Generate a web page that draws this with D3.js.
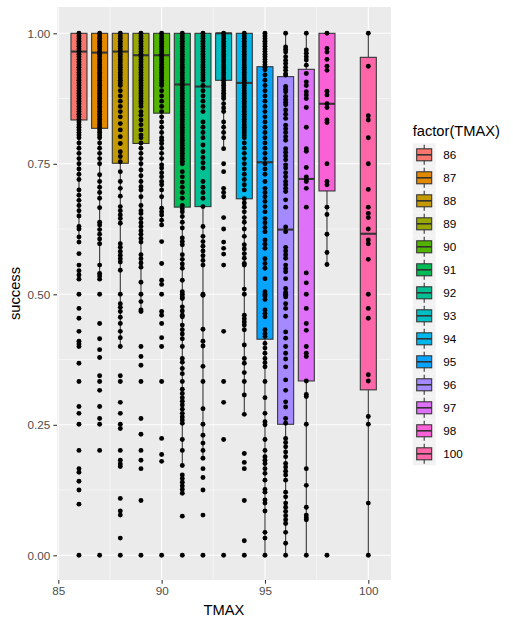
<!DOCTYPE html>
<html>
<head>
<meta charset="utf-8">
<script src="https://cdn.jsdelivr.net/npm/d3@7"></script>
<style>
  body { margin: 0; background: #fff; }
  text { font-family: "Liberation Sans", Arial, sans-serif; }
</style>
</head>
<body>
<main></main>
<script>
// groups (factor levels of TMAX)
const tmax = [86, 87, 88, 89, 90, 91, 92, 93, 94, 95, 96, 97, 98, 100];
const colors = ['#F8766D', '#E38900', '#C49A00', '#99A800', '#53B400', '#00BC56', '#00C094',
  '#00BFC4', '#00B6EB', '#06A4FF', '#A58AFF', '#DF70F8', '#FB61D7', '#FF66A8'];

// box stats
const q1 = [0.834, 0.818, 0.751, 0.789, 0.847, 0.667, 0.668, 0.910, 0.683, 0.414, 0.251, 0.334, 0.698, 0.317];
const med = [0.965, 0.963, 0.965, 0.958, 0.958, 0.902, 0.898, 1.000, 0.905, 0.753, 0.624, 0.721, 0.865, 0.616];
const q3 = [1, 1, 1, 1, 1, 1, 1, 1, 1, 0.936, 0.917, 0.931, 1, 0.954];
const whiskLo = [0.600, 0.529, 0.400, 0.467, 0.633, 0.172, 0.186, 0.779, 0.270, 0, 0, 0, 0.557, 0];
const whiskHi = [1, 1, 1, 1, 1, 1, 1, 1, 1, 1, 1, 1, 1, 1];

// success values per group
const pts86 = [1, .995, .99, .985, .98, .975, .97, .965, .96, .955, .95, .945, .94, .935, .93, .925, .92, .915, .91,
  .905, .90, .895, .89, .885, .88, .875, .87, .865, .86, .855, .85, .845, .84, .835, .83, .825, .82, .815, .81, .805, .80,
  .79, .78, .77, .76, .75, .74, .73, .72, .70, .69, .68, .67, .66, .65, .63, .625, .61, .60, .578, .556, .545, .537,
  .529, .50, .473, .454, .429, .41, .405, .40, .368, .333, .285, .272, .251, .201, .166, .159, .142, .125, .098, 0];
const pts87 = [1, .995, .99, .985, .98, .975, .97, .965, .96, .955, .95, .945, .94, .935, .93, .925, .92, .915, .91,
  .905, .90, .895, .89, .885, .88, .875, .87, .865, .86, .855, .85, .845, .84, .835, .83, .825, .82, .815, .81, .805, .80,
  .79, .78, .77, .76, .75, .729, .716, .705, .695, .684, .666, .638, .633, .624, .615, .606, .597, .556, .54, .535,
  .529, .50, .444, .415, .394, .379, .344, .333, .316, .285, .262, .251, .201, 0];
const pts88 = [1, .995, .99, .985, .98, .975, .97, .965, .96, .955, .95, .945, .94, .935, .93, .925, .92, .915, .91,
  .905, .90, .89, .88, .87, .86, .85, .84, .827, .815, .802,
  .789, .773, .764, .754, .735, .716, .703, .688, .668, .66, .652, .645, .636, .597, .59, .582, .575, .568, .562, .546,
  .50, .482, .475, .467, .456, .444, .429, .417, .40, .344, .333, .293, .272, .251, .243, .201, .182, .175, .17, .109,
  .085, .077, .033, 0];
const pts89 = [1, .995, .99, .985, .98, .975, .97, .965, .96, .955, .95, .945, .94, .935, .93, .925, .92, .915, .91,
  .905, .90, .895, .89, .885, .88, .875, .87, .865, .86, .85, .843, .834, .825, .815,
  .805, .80, .79, .78, .77, .76, .75, .738, .727, .716, .706, .70, .687, .67, .66, .655, .645, .637, .63, .622, .615,
  .607, .60, .576, .568, .56, .552, .523, .50, .486, .47, .467, .40, .381, .364, .333, .262, .232, .201, .182, .166,
  .105, 0];
const pts90 = [1, .995, .99, .985, .98, .975, .97, .965, .96, .955, .95, .945, .94, .935, .93, .925, .92, .915, .91,
  .905, .90, .89, .88, .87, .86, .85, .84, .83, .82, .81, .80,
  .795, .789, .78, .77, .76, .748, .742, .733, .725, .716, .71, .70, .687, .665, .658, .652, .642, .633, .601, .559,
  .527, .519, .50, .467, .46, .444, .417, .40, .333, .224, .193, .18, 0];
const pts91 = [1, .995, .99, .985, .98, .975, .97, .965, .96, .955, .95, .945, .94, .935, .93, .925, .92, .915, .91,
  .905, .90, .895, .89, .885, .88, .875, .87, .865, .86, .855, .85, .845, .84, .835, .83, .825, .82, .815, .81, .805, .80,
  .795, .79, .785, .78, .775, .77, .765, .76, .755, .75, .735, .725, .715, .705, .695, .684, .67, .664, .658, .649,
  .638, .627, .608, .601, .595,
  .576, .567, .558, .55, .527, .505, .50, .495, .492, .476, .468, .46, .457, .441, .432, .424, .415, .40, .377, .37,
  .358, .348, .333, .318, .31, .302, .295, .288, .28, .272, .265, .259, .253, .222, .201, .172, .154, .147, .14, .133,
  .126, .119, .075, 0];
const pts92 = [1, .995, .99, .985, .98, .975, .97, .965, .96, .955, .95, .945, .94, .935, .93, .925, .92, .915, .91,
  .90, .89, .88, .87, .86, .85, .83, .82, .81, .80, .786,
  .773, .762, .752, .742, .716, .705, .695, .684, .668, .63, .611, .601, .592, .583, .574, .565, .556, .50, .498, .433,
  .41, .401, .362, .333, .281, .251, .23, .215, .201, .186, .166, .149, .125, .077, 0];
const pts93 = [1, .995, .99, .985, .98, .975, .97, .965, .96, .955, .95, .945, .94, .935, .93, .925, .92, .915, .91,
  .905, .90, .895, .89, .885, .88, .875, .865, .857, .85, .83, .82, .81,
  .80, .779, .75, .735, .703, .695, .687, .647, .625, .60, .588, .577, .556, .429, .333, .293, .222, 0];
const pts94 = [1, .995, .99, .985, .98, .975, .97, .965, .96, .955, .95, .945, .94, .935, .93, .925, .92, .915, .91,
  .905, .90, .895, .89, .885, .88, .875, .87, .865, .86, .855, .85, .845, .84, .835, .83, .825, .82, .815, .81, .805, .80,
  .79, .78, .77, .76, .75, .74, .73, .72, .71, .70, .683, .675, .667, .658, .647, .638, .625, .611, .595, .587, .578,
  .569, .559, .556, .51, .50, .46, .453, .447, .441, .432, .403, .377, .368, .35, .333, .307, .27, .195, .178, .166,
  .105, .028, 0];
const pts95 = [1, .995, .99, .985, .98, .975, .97, .965, .96, .955, .95, .945, .94, .935, .93, .92, .91, .90, .89, .88,
  .87, .86, .85, .84, .83, .82, .81, .80,
  .79, .78, .77, .76, .75, .74, .73, .716, .703, .695, .687, .678, .668, .658, .645, .637, .628, .62, .604, .596, .588,
  .568, .559, .55, .53, .505, .50, .497, .49, .47, .463, .457, .432, .425, .419, .406, .397, .387, .377, .369, .361,
  .333, .302, .272, .256, .25, .222, .201, .189, .182, .176, .166, .157, .144, .126, .121, .106, .1, .085, .044, .033, 0];
const pts96 = [1, .974, .969, .964, .955, .948, .942, .935, .929, .922, .92, .898, .893, .888, .879, .873, .868, .863,
  .853, .845, .837, .824, .817, .81, .802, .795, .779, .772, .765, .758, .748, .742, .733, .725, .716, .71, .703, .697,
  .681, .667, .629, .62, .59, .583, .576, .569, .556, .549, .543, .53, .511, .504, .50, .498, .495, .482, .473, .458,
  .428, .416, .40, .387, .376, .361, .336, .316, .294, .284, .262, .253, .224, .216, .208, .198, .189, .176, .169, .161,
  .154, .144, .121, .112, .1, .092, .084, .076, .068, .061, .044, .023, 0];
const pts97 = [1, .968, .962, .955, .949, .939, .923, .907, .9, .888, .882, .875, .858, .82, .779, .774, .743, .725,
  .72, .716, .703, .667, .541, .522, .50, .473, .444, .431, .40, .387, .381, .334, .308, .304, .251, .166, .134, .092,
  .077, .072, .068, 0];
const pts98 = [1, .971, .964, .95, .937, .929, .889, .882, .865, .858, .834, .829, .75, .716, .71, .667, .653, .615,
  .58, .557, 0];
const pts100 = [1, .937, .842, .834, .80, .75, .701, .667, .655, .647, .625, .604, .597, .567, .50, .473, .454, .346,
  .334, .266, .251, .10, 0];

const points = [pts86, pts87, pts88, pts89, pts90, pts91, pts92, pts93, pts94, pts95, pts96, pts97, pts98, pts100];

const groups = tmax.map((t, i) => ({
  t, color: colors[i], q1: q1[i], med: med[i], q3: q3[i], lo: whiskLo[i], hi: whiskHi[i], pts: points[i]
}));

const width = 513;
const height = 626;
const panel = { left: 57, right: 391, top: 7, bottom: 580 };

const svg = d3.select('main')
  .append('svg')
  .attr('width', width)
  .attr('height', height)
  .style('display', 'block');

svg.append('rect').attr('width', width).attr('height', height).attr('fill', '#fff');

const x = d3.scaleLinear().domain([84.937, 101.098]).range([panel.left, panel.right]);
const y = d3.scaleLinear().domain([-0.0473, 1.0504]).range([panel.bottom, panel.top]);
const boxW = 0.775;

// Panel
svg.append('rect')
  .attr('x', panel.left)
  .attr('y', panel.top)
  .attr('width', panel.right - panel.left)
  .attr('height', panel.bottom - panel.top)
  .attr('fill', '#EBEBEB');

const grid = svg.append('g');
const xMinor = [87.5, 92.5, 97.5];
const yMinor = [0.125, 0.375, 0.625, 0.875];
const xMajor = [85, 90, 95, 100];
const yMajor = [0, 0.25, 0.5, 0.75, 1];

grid.selectAll('.xminor').data(xMinor).enter().append('line')
  .attr('x1', d => x(d)).attr('x2', d => x(d))
  .attr('y1', panel.top).attr('y2', panel.bottom)
  .attr('stroke', '#fff').attr('stroke-width', 0.53);
grid.selectAll('.yminor').data(yMinor).enter().append('line')
  .attr('y1', d => y(d)).attr('y2', d => y(d))
  .attr('x1', panel.left).attr('x2', panel.right)
  .attr('stroke', '#fff').attr('stroke-width', 0.53);
grid.selectAll('.xmajor').data(xMajor).enter().append('line')
  .attr('x1', d => x(d)).attr('x2', d => x(d))
  .attr('y1', panel.top).attr('y2', panel.bottom)
  .attr('stroke', '#fff').attr('stroke-width', 1.07);
grid.selectAll('.ymajor').data(yMajor).enter().append('line')
  .attr('y1', d => y(d)).attr('y2', d => y(d))
  .attr('x1', panel.left).attr('x2', panel.right)
  .attr('stroke', '#fff').attr('stroke-width', 1.07);

// Boxplots
const box = svg.append('g').selectAll('g')
  .data(groups)
  .enter()
  .append('g');

box.append('line')
  .attr('x1', d => x(d.t)).attr('x2', d => x(d.t))
  .attr('y1', d => y(d.q3)).attr('y2', d => y(d.hi))
  .attr('stroke', '#333').attr('stroke-width', 1.07);
box.append('line')
  .attr('x1', d => x(d.t)).attr('x2', d => x(d.t))
  .attr('y1', d => y(d.q1)).attr('y2', d => y(d.lo))
  .attr('stroke', '#333').attr('stroke-width', 1.07);
box.append('rect')
  .attr('x', d => x(d.t - boxW / 2))
  .attr('width', d => x(d.t + boxW / 2) - x(d.t - boxW / 2))
  .attr('y', d => y(d.q3))
  .attr('height', d => y(d.q1) - y(d.q3))
  .attr('fill', d => d.color)
  .attr('stroke', '#333').attr('stroke-width', 1.07);
box.append('line')
  .attr('x1', d => x(d.t - boxW / 2)).attr('x2', d => x(d.t + boxW / 2))
  .attr('y1', d => y(d.med)).attr('y2', d => y(d.med))
  .attr('stroke', '#333').attr('stroke-width', 2.1);

// Points
svg.append('g').selectAll('g')
  .data(groups)
  .enter()
  .append('g')
  .selectAll('circle')
  .data(d => d.pts.map(v => ({ t: d.t, v })))
  .enter()
  .append('circle')
  .attr('cx', d => x(d.t))
  .attr('cy', d => y(d.v))
  .attr('r', 2.45)
  .attr('fill', '#000');

// Axes
const xAxis = svg.append('g')
  .attr('transform', `translate(0, ${panel.bottom})`)
  .call(d3.axisBottom(x).tickValues(xMajor).tickSize(3.65).tickPadding(3).tickFormat(d3.format('d')));
const yAxis = svg.append('g')
  .attr('transform', `translate(${panel.left}, 0)`)
  .call(d3.axisLeft(y).tickValues(yMajor).tickSize(3.65).tickPadding(3).tickFormat(d3.format('.2f')));

[xAxis, yAxis].forEach(a => {
  a.select('.domain').remove();
  a.selectAll('.tick line').attr('stroke', '#333').attr('stroke-width', 1.07);
  a.selectAll('.tick text')
    .attr('fill', '#4D4D4D')
    .style('font-size', '11.7px')
    .style('font-family', '"Liberation Sans", Arial, sans-serif');
});

svg.append('text')
  .text('TMAX')
  .attr('x', (panel.left + panel.right) / 2)
  .attr('y', 615)
  .attr('text-anchor', 'middle')
  .style('font-size', '14.7px');

svg.append('text')
  .text('success')
  .attr('transform', `translate(20, ${(panel.top + panel.bottom) / 2}) rotate(-90)`)
  .attr('text-anchor', 'middle')
  .style('font-size', '14.7px');

// Legend
const keySize = 23;
const legendX = 412.7;
const legendY = 143.3;

svg.append('text')
  .text('factor(TMAX)')
  .attr('x', legendX)
  .attr('y', 136)
  .style('font-size', '14.7px');

const key = svg.append('g')
  .selectAll('g')
  .data(groups)
  .enter()
  .append('g')
  .attr('transform', (d, i) => `translate(${legendX}, ${legendY + i * keySize})`);

key.append('rect')
  .attr('width', keySize)
  .attr('height', keySize)
  .attr('fill', '#F2F2F2');
key.append('line')
  .attr('x1', keySize / 2).attr('x2', keySize / 2)
  .attr('y1', 1.5).attr('y2', keySize - 1.5)
  .attr('stroke', '#333').attr('stroke-width', 1.07);
key.append('rect')
  .attr('x', 4)
  .attr('y', keySize / 2 - 6)
  .attr('width', keySize - 8)
  .attr('height', 12)
  .attr('fill', d => d.color)
  .attr('stroke', '#333').attr('stroke-width', 1.07);
key.append('line')
  .attr('x1', 4).attr('x2', keySize - 4)
  .attr('y1', keySize / 2).attr('y2', keySize / 2)
  .attr('stroke', '#333').attr('stroke-width', 1.6);
key.append('text')
  .text(d => d.t)
  .attr('x', keySize + 7.5)
  .attr('y', keySize / 2)
  .attr('dy', '0.36em')
  .style('font-size', '11.7px')
  .attr('fill', '#000');
</script>
</body>
</html>
